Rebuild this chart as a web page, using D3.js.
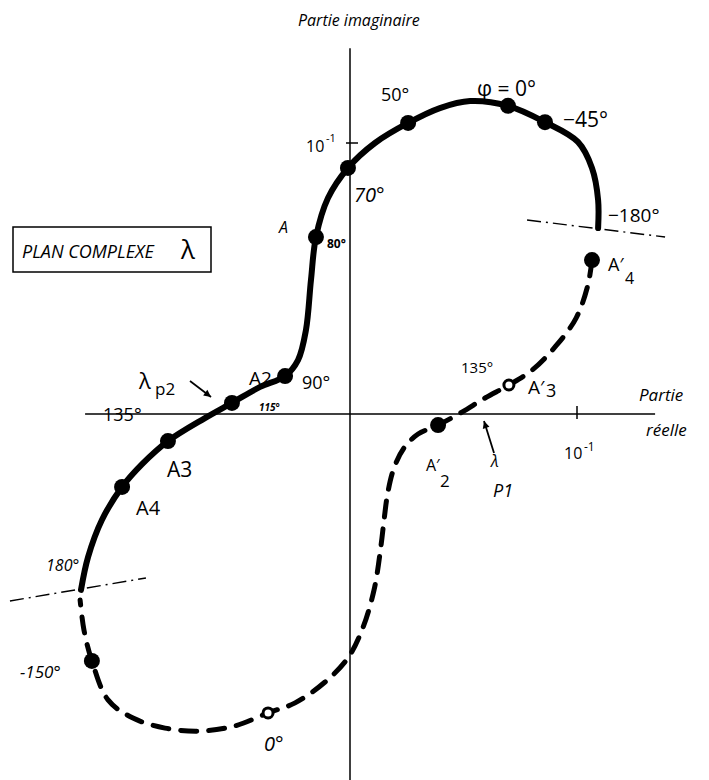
<!DOCTYPE html>
<html>
<head>
<meta charset="utf-8">
<script src="https://cdn.jsdelivr.net/npm/d3@7"></script>
<style>
  html, body { margin: 0; padding: 0; background: #fff; }
  svg { display: block; }
  text { font-family: "Open Sans", "DejaVu Sans", sans-serif; fill: #000; }
</style>
</head>
<body>
<svg id="chart" width="709" height="780"></svg>
<script>
// Lieu de λ dans le plan complexe : [partie réelle, partie imaginaire]
const brancheContinue = [
  [0.1093, 0.0686], [0.1093, 0.0790], [0.1066, 0.0908], [0.1004, 0.1004],
  [0.0859, 0.1077], [0.0696, 0.1137], [0.0529, 0.1155], [0.0396, 0.1129],
  [0.0256, 0.1074], [0.0110, 0.1000], [-0.0009, 0.0908], [-0.0097, 0.0797],
  [-0.0150, 0.0653], [-0.0172, 0.0494], [-0.0194, 0.0310], [-0.0229, 0.0199],
  [-0.0286, 0.0140], [-0.0396, 0.0100], [-0.0520, 0.0041], [-0.0639, -0.0015],
  [-0.0802, -0.0100], [-0.0916, -0.0185], [-0.1004, -0.0269], [-0.1093, -0.0391],
  [-0.1154, -0.0528], [-0.1185, -0.0649]
];
const brancheTiretee = [
  [0.1066, 0.0568], [0.1048, 0.0476], [0.0996, 0.0354], [0.0907, 0.0251],
  [0.0802, 0.0162], [0.0700, 0.0107], [0.0595, 0.0059], [0.0493, 0.0007],
  [0.0388, -0.0041], [0.0300, -0.0074], [0.0238, -0.0125], [0.0194, -0.0199],
  [0.0167, -0.0288], [0.0150, -0.0391], [0.0137, -0.0483], [0.0106, -0.0649],
  [0.0053, -0.0797], [-0.0009, -0.0900], [-0.0110, -0.0989], [-0.0242, -0.1066],
  [-0.0361, -0.1103], [-0.0507, -0.1151], [-0.0661, -0.1170], [-0.0815, -0.1159],
  [-0.0956, -0.1122], [-0.1066, -0.1055], [-0.1137, -0.0911], [-0.1172, -0.0797],
  [-0.1189, -0.0686]
];
// Points repérés : pleins et creux
const pointsPleins = [
  [0.0859, 0.1077], [0.0696, 0.1137], [0.0256, 0.1074], [-0.0009, 0.0908],
  [-0.0150, 0.0653], [-0.0286, 0.0140], [-0.0520, 0.0041], [-0.0802, -0.0100],
  [-0.1004, -0.0269], [0.1066, 0.0568], [0.0388, -0.0041], [-0.1137, -0.0911]
];
const pointsCreux = [[0.0700, 0.0107], [-0.0361, -0.1103]];
// Droites de référence (±180°)
const droitesRef = [
  [[0.0780, 0.0716], [0.1388, 0.0653]],
  [[-0.1498, -0.0690], [-0.0899, -0.0605]]
];
// Axes et graduations
const axeReel = [-0.1167, 0.1344];
const axeImag = [-0.1354, 0.1350];
const graduations = [0.1];

const svg = d3.select("#chart");
const x = d3.scaleLinear().domain([0, 0.1]).range([350, 577]);
const y = d3.scaleLinear().domain([0, 0.1]).range([414, 143]);

// Axes
svg.append("line").attr("x1", x(axeReel[0])).attr("x2", x(axeReel[1]))
  .attr("y1", y(0)).attr("y2", y(0)).attr("stroke", "#000").attr("stroke-width", 1.5);
svg.append("line").attr("x1", x(0)).attr("x2", x(0))
  .attr("y1", y(axeImag[1])).attr("y2", y(axeImag[0])).attr("stroke", "#000").attr("stroke-width", 1.5);
graduations.forEach(g => {
  svg.append("line").attr("x1", x(g)).attr("x2", x(g)).attr("y1", y(0) - 8).attr("y2", y(0) + 5)
    .attr("stroke", "#000").attr("stroke-width", 1.5);
  svg.append("line").attr("x1", x(0) - 4).attr("x2", x(0) + 8).attr("y1", y(g)).attr("y2", y(g))
    .attr("stroke", "#000").attr("stroke-width", 1.5);
});

// Droites mixtes
droitesRef.forEach(d => {
  svg.append("line").attr("x1", x(d[0][0])).attr("y1", y(d[0][1]))
    .attr("x2", x(d[1][0])).attr("y2", y(d[1][1]))
    .attr("stroke", "#000").attr("stroke-width", 1.4).attr("stroke-dasharray", "14,5,2,5");
});

const courbe = d3.line().x(d => x(d[0])).y(d => y(d[1])).curve(d3.curveCatmullRom.alpha(0.5));
svg.append("path").attr("d", courbe(brancheContinue)).attr("fill", "none")
  .attr("stroke", "#000").attr("stroke-width", 6).attr("stroke-linecap", "round");
svg.append("path").attr("d", courbe(brancheTiretee)).attr("fill", "none")
  .attr("stroke", "#000").attr("stroke-width", 5).attr("stroke-linecap", "round")
  .attr("stroke-dasharray", "16,12");

svg.selectAll("circle.plein").data(pointsPleins).join("circle").attr("class", "plein")
  .attr("cx", d => x(d[0])).attr("cy", d => y(d[1])).attr("r", 8).attr("fill", "#000");
svg.selectAll("circle.creux").data(pointsCreux).join("circle").attr("class", "creux")
  .attr("cx", d => x(d[0])).attr("cy", d => y(d[1])).attr("r", 5)
  .attr("fill", "#fff").attr("stroke", "#000").attr("stroke-width", 3);

// Cadre du titre
svg.append("rect").attr("x", 13).attr("y", 227).attr("width", 198).attr("height", 45)
  .attr("fill", "none").attr("stroke", "#000").attr("stroke-width", 1.5);

// Flèches
const fleche = (x1, y1, x2, y2) => {
  svg.append("line").attr("x1", x1).attr("y1", y1).attr("x2", x2).attr("y2", y2)
    .attr("stroke", "#000").attr("stroke-width", 1.8);
  const a = Math.atan2(y2 - y1, x2 - x1), L = 8, w = 0.45;
  svg.append("path")
    .attr("d", `M${x2},${y2} L${x2 - L * Math.cos(a - w)},${y2 - L * Math.sin(a - w)} L${x2 - L * Math.cos(a + w)},${y2 - L * Math.sin(a + w)}Z`)
    .attr("fill", "#000");
};
fleche(190, 381, 211, 397);
fleche(494, 453, 484, 421);

// Textes
const t = (txt, px, py, size, opts = {}) => {
  const e = svg.append("text").attr("x", px).attr("y", py).attr("font-size", size)
    .attr("font-style", opts.italic ? "italic" : "normal")
    .attr("font-weight", opts.bold ? "bold" : "normal")
    .attr("text-anchor", opts.anchor || "start");
  e.text(txt);
  return e;
};
t("Partie imaginaire", 298, 26, 16, { italic: true });
t("φ = 0°", 477, 96, 21);
t("50°", 381, 101, 18);
t("−45°", 563, 127, 21);
t("70°", 354, 202, 20, { italic: true });
t("−180°", 608, 222, 19);
t("A", 279, 233, 16, { italic: true });
t("80°", 327, 248, 12, { bold: true });
t("A′", 608, 271, 18);
t("4", 625, 284, 16);
t("PLAN COMPLEXE", 22, 258, 18, { italic: true });
t("λ", 181, 259, 26);
t("λ", 139, 389, 22);
t("p2", 155, 395, 17);
t("A2", 249, 385, 19);
t("90°", 302, 389, 18);
t("115°", 259, 411, 10, { bold: true, italic: true });
t("135°", 461, 373, 15);
t("A′", 528, 394, 19);
t("3", 546, 397, 18);
t("Partie", 639, 401, 17, { italic: true });
t("réelle", 646, 436, 17, { italic: true });
t("A′", 426, 471, 16);
t("2", 440, 487, 17);
t("λ", 491, 467, 16, { italic: true });
t("P1", 493, 497, 18, { italic: true });
t("135°", 103, 421, 18);
t("A3", 167, 477, 21);
t("A4", 136, 515, 20);
t("180°", 46, 571, 16, { italic: true });
t("-150°", 20, 678, 17, { italic: true });
t("0°", 264, 751, 20, { italic: true });
// Graduations 10⁻¹
t("10", 306, 152, 16);
t("-1", 326, 142, 11);
t("10", 564, 459, 16);
t("-1", 584, 451, 12);
</script>
</body>
</html>
